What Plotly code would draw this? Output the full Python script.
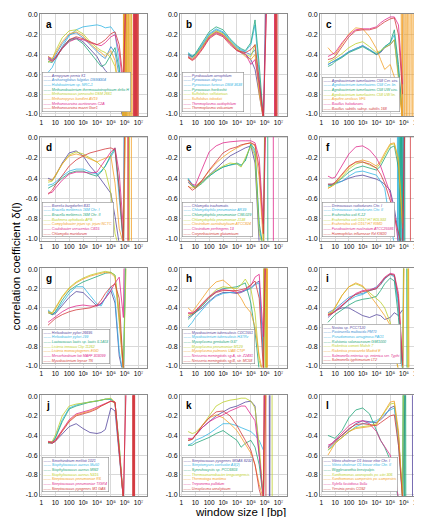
import plotly.graph_objects as go

# ---------------- data ----------------
LOG_WINDOW = [0.48, 0.78, 1.0, 1.5, 2.0, 2.5, 3.0, 3.5, 4.0, 4.3, 4.6, 5.0, 5.3, 5.6, 5.9]
PANEL_LETTERS = ["a", "b", "c", "d", "e", "f", "g", "h", "i", "j", "k", "l"]
X_TICK_VALUES = [1, 10, 100, 1e3, 1e4, 1e5, 1e6, 1e7]
X_TICK_TEXT = ["1", "10", "100", "10\u00b3", "10\u2074", "10\u2075", "10\u2076", "10\u2077"]
Y_TICK_VALUES = [0.0, -0.2, -0.4, -0.6, -0.8, -1.0]
Y_TICK_TEXT = ["0.0", "-0.2", "-0.4", "-0.6", "-0.8", "-1.0"]

PAL8 = ["#55479e", "#3b8bd0", "#33b6e4", "#22a67a", "#bccf2c", "#f2a12a", "#e02a8c", "#d33a3c"]
PAL7 = ["#55479e", "#33b6e4", "#22a67a", "#bccf2c", "#f2a12a", "#e02a8c", "#d33a3c"]

NAMES_A = ["Aeropyrum pernix K1", "Archaeoglobus fulgidus DSM4304", "Halobacterium sp. NRC-1",
           "Methanobacterium thermoautotrophicum delta H", "Methanococcus jannaschii DSM 2661",
           "Methanopyrus kandleri AV19", "Methanosarcina acetivorans C2A", "Methanosarcina mazei Goe1"]
Y_A = [
    [-0.42, -0.45, -0.43, -0.33, -0.25, -0.23, -0.27, -0.34, -0.42, -0.50, -0.56, -0.62, -0.72, -0.90, -1.05],
    [-0.44, -0.46, -0.41, -0.29, -0.20, -0.18, -0.23, -0.30, -0.36, -0.41, -0.44, -0.32, -0.38, -0.62, -1.05],
    [-0.58, -0.53, -0.46, -0.32, -0.21, -0.15, -0.12, -0.11, -0.10, -0.11, -0.13, -0.12, -0.18, -0.50, -1.05],
    [-0.47, -0.48, -0.44, -0.34, -0.26, -0.24, -0.29, -0.38, -0.47, -0.52, -0.50, -0.40, -0.33, -0.55, -1.05],
    [-0.48, -0.45, -0.37, -0.23, -0.16, -0.15, -0.19, -0.27, -0.33, -0.36, -0.38, -0.43, -0.52, -0.78, -1.05],
    [-0.42, -0.44, -0.39, -0.27, -0.19, -0.17, -0.21, -0.29, -0.35, -0.38, -0.42, -0.36, -0.46, -0.82, -1.05],
    [-0.43, -0.46, -0.44, -0.34, -0.27, -0.24, -0.25, -0.28, -0.30, -0.31, -0.28, -0.22, -0.20, -0.38, -0.75],
    [-0.45, -0.47, -0.44, -0.33, -0.25, -0.22, -0.24, -0.27, -0.30, -0.28, -0.25, -0.19, -0.17, -0.30, -0.68],
]
TAIL_A = {3: [5.95, 6.05, 6.15], 4: [6.0, 6.1, 6.2, 6.35, 6.6, 6.65],
          5: [5.92, 5.97, 6.02, 6.08, 6.14, 6.2, 6.27, 6.34, 6.42, 6.5, 6.72, 6.76, 6.8, 6.84, 6.88, 6.92],
          6: [6.62, 6.66, 6.7, 6.74, 6.78, 6.82, 6.86],
          7: [6.64, 6.68, 6.72, 6.76, 6.8, 6.84, 6.88, 6.95, 7.0]}

NAMES_B = ["Pyrobaculum aerophilum", "Pyrococcus abyssi", "Pyrococcus furiosus DSM 3638", "Pyrococcus horikoshii",
           "Sulfolobus solfataricus", "Sulfolobus tokodaii", "Thermoplasma acidophilum", "Thermoplasma volcanium"]
Y_B = [
    [-0.40, -0.42, -0.40, -0.32, -0.22, -0.17, -0.20, -0.28, -0.35, -0.38, -0.40, -0.45, -0.55, -0.80, -1.05],
    [-0.41, -0.43, -0.41, -0.31, -0.20, -0.15, -0.18, -0.26, -0.33, -0.36, -0.38, -0.40, -0.35, -0.70, -1.05],
    [-0.38, -0.41, -0.40, -0.30, -0.19, -0.14, -0.17, -0.25, -0.32, -0.35, -0.37, -0.30, -0.10, -0.60, -1.05],
    [-0.39, -0.42, -0.39, -0.28, -0.17, -0.12, -0.15, -0.24, -0.31, -0.34, -0.36, -0.28, -0.05, -0.50, -1.05],
    [-0.42, -0.44, -0.41, -0.32, -0.21, -0.16, -0.19, -0.27, -0.34, -0.37, -0.40, -0.42, -0.30, -0.75, -1.05],
    [-0.43, -0.45, -0.42, -0.33, -0.22, -0.17, -0.20, -0.28, -0.35, -0.38, -0.42, -0.45, -0.40, -0.80, -1.05],
    [-0.42, -0.45, -0.43, -0.34, -0.23, -0.18, -0.21, -0.29, -0.36, -0.38, -0.39, -0.50, -0.45, -0.70, -1.05],
    [-0.43, -0.46, -0.44, -0.35, -0.24, -0.19, -0.22, -0.30, -0.36, -0.37, -0.38, -0.35, -0.30, -0.65, -1.05],
]
TAIL_B = {0: [6.5], 6: [6.68, 6.72, 6.76], 7: [6.72, 6.75, 6.78, 6.81, 6.84, 6.87, 6.9]}

NAMES_C = ["Agrobacterium tumefaciens C58 Cer. circ.", "Agrobacterium tumefaciens C58 Cer. lin.",
           "Agrobacterium tumefaciens C58 UW circ.", "Agrobacterium tumefaciens C58 UW lin.",
           "Aquifex aeolicus VF5", "Bacillus halodurans", "Bacillus subtilis subsp. subtilis 168"]
Y_C = [
    [-0.50, -0.48, -0.46, -0.42, -0.37, -0.34, -0.31, -0.35, -0.40, -0.38, -0.33, -0.30, -0.25, -0.60, -1.05],
    [-0.50, -0.48, -0.46, -0.42, -0.37, -0.34, -0.31, -0.35, -0.39, -0.37, -0.32, -0.28, -0.20, -0.55, -1.05],
    [-0.52, -0.50, -0.47, -0.43, -0.38, -0.35, -0.32, -0.36, -0.40, -0.37, -0.32, -0.28, -0.15, -0.50, -1.05],
    [-0.48, -0.46, -0.44, -0.39, -0.33, -0.29, -0.27, -0.32, -0.38, -0.36, -0.33, -0.30, -0.25, -0.65, -1.05],
    [-0.33, -0.38, -0.40, -0.30, -0.19, -0.13, -0.14, -0.22, -0.34, -0.45, -0.55, -0.50, -0.62, -0.75, -1.05],
    [-0.42, -0.40, -0.38, -0.28, -0.20, -0.15, -0.14, -0.14, -0.12, -0.08, -0.05, -0.02, -0.02, -0.10, -0.70],
    [-0.45, -0.44, -0.42, -0.32, -0.22, -0.16, -0.15, -0.15, -0.13, -0.10, -0.07, -0.04, -0.03, -0.20, -0.80],
]
TAIL_C = {4: [5.75, 5.85, 5.95, 6.05, 6.12, 6.2, 6.3, 6.4, 6.5, 6.62, 6.7, 6.78, 6.85, 6.9]}

NAMES_D = ["Borrelia burgdorferi B31", "Brucella melitensis 16M Chr. I", "Brucella melitensis 16M Chr. II",
           "Buchnera aphidicola APS", "Campylobacter jejuni sp. jejuni NCTC", "Caulobacter crescentus CB15",
           "Chlamydia muridarum"]
Y_D = [
    [-0.40, -0.42, -0.38, -0.25, -0.15, -0.13, -0.18, -0.28, -0.36, -0.42, -0.48, -0.55, -0.78, -1.05, -1.10],
    [-0.47, -0.46, -0.44, -0.38, -0.33, -0.31, -0.31, -0.34, -0.36, -0.33, -0.28, -0.18, -0.12, -0.60, -1.05],
    [-0.50, -0.48, -0.46, -0.40, -0.35, -0.33, -0.33, -0.36, -0.38, -0.34, -0.28, -0.17, -0.10, -0.50, -1.05],
    [-0.44, -0.43, -0.38, -0.26, -0.17, -0.14, -0.16, -0.20, -0.24, -0.28, -0.32, -0.55, -0.95, -1.10, -1.10],
    [-0.42, -0.42, -0.37, -0.26, -0.18, -0.16, -0.18, -0.21, -0.24, -0.22, -0.20, -0.18, -0.45, -0.90, -1.05],
    [-0.55, -0.54, -0.50, -0.42, -0.36, -0.34, -0.34, -0.35, -0.34, -0.28, -0.22, -0.14, -0.10, -0.35, -0.90],
    [-0.56, -0.52, -0.47, -0.37, -0.28, -0.22, -0.18, -0.15, -0.13, -0.12, -0.11, -0.10, -0.12, -0.50, -1.05],
]
TAIL_D = {1: [6.05], 3: [6.32, 6.36], 4: [6.45, 6.5], 6: [6.2, 6.24, 6.28]}

NAMES_E = ["Chlamydia trachomatis", "Chlamydophila pneumoniae AR39", "Chlamydophila pneumoniae CWL029",
           "Chlamydophila pneumoniae J138", "Clostridium acetobutylicum ATCC824", "Clostridium perfringens 13",
           "Corynebacterium glutamicum"]
Y_E = [
    [-0.44, -0.48, -0.48, -0.43, -0.37, -0.30, -0.24, -0.18, -0.14, -0.12, -0.10, -0.08, -0.25, -1.05, -1.10],
    [-0.40, -0.46, -0.49, -0.44, -0.38, -0.33, -0.29, -0.27, -0.26, -0.28, -0.22, -0.07, -0.15, -0.90, -1.10],
    [-0.41, -0.47, -0.50, -0.45, -0.38, -0.33, -0.29, -0.27, -0.25, -0.27, -0.23, -0.06, -0.12, -0.85, -1.10],
    [-0.42, -0.48, -0.50, -0.44, -0.37, -0.32, -0.28, -0.25, -0.26, -0.29, -0.20, -0.08, -0.18, -0.95, -1.10],
    [-0.48, -0.50, -0.48, -0.42, -0.33, -0.25, -0.19, -0.14, -0.10, -0.08, -0.06, -0.05, -0.08, -0.40, -1.05],
    [-0.42, -0.46, -0.47, -0.30, -0.14, -0.08, -0.05, -0.04, -0.03, -0.03, -0.03, -0.03, -0.05, -0.20, -0.85],
    [-0.48, -0.52, -0.50, -0.42, -0.32, -0.23, -0.15, -0.11, -0.09, -0.07, -0.06, -0.05, -0.07, -0.30, -0.95],
]
TAIL_E = {2: [6.2, 6.23], 3: [6.27], 5: [6.6, 6.63], 6: [6.35]}

NAMES_F = ["Deinococcus radiodurans Chr. I", "Deinococcus radiodurans Chr. II", "Escherichia coli K-12",
           "Escherichia coli O157:H7 EDL933", "Escherichia coli O157:H7 RIMD", "Fusobacterium nucleatum ATCC25586",
           "Haemophilus influenzae Rd KW20"]
Y_F = [
    [-0.46, -0.46, -0.45, -0.43, -0.40, -0.38, -0.37, -0.39, -0.41, -0.43, -0.46, -0.52, -0.70, -0.95, -1.10],
    [-0.47, -0.47, -0.46, -0.43, -0.38, -0.34, -0.33, -0.35, -0.37, -0.43, -0.50, -0.85, -1.05, -1.10, -1.10],
    [-0.48, -0.47, -0.45, -0.40, -0.34, -0.30, -0.28, -0.30, -0.32, -0.28, -0.20, -0.10, -0.08, -0.30, -0.90],
    [-0.50, -0.48, -0.46, -0.39, -0.31, -0.26, -0.24, -0.27, -0.30, -0.25, -0.17, -0.07, -0.06, -0.20, -0.85],
    [-0.50, -0.48, -0.45, -0.37, -0.29, -0.24, -0.22, -0.24, -0.28, -0.23, -0.15, -0.06, -0.05, -0.25, -0.90],
    [-0.38, -0.40, -0.39, -0.28, -0.16, -0.09, -0.08, -0.12, -0.20, -0.28, -0.40, -0.55, -0.75, -1.05, -1.10],
    [-0.46, -0.46, -0.44, -0.36, -0.28, -0.24, -0.24, -0.26, -0.30, -0.36, -0.45, -0.62, -0.78, -0.95, -1.10],
]
TAIL_F = {1: [5.5, 5.55, 5.6, 5.65, 5.72, 5.78, 5.85, 5.9, 5.95, 6.0, 6.05],
          2: [5.6, 5.7, 5.8, 5.9, 6.0, 6.1], 5: [6.35], 6: [6.45, 6.48]}

NAMES_G = ["Helicobacter pylori 26695", "Helicobacter pylori J99", "Lactococcus lactis sp. lactis IL1403",
           "Listeria innocua Clip 11262", "Listeria monocytogenes EGD", "Mesorhizobium loti MAFF 303099",
           "Mycobacterium leprae TN"]
Y_G = [
    [-0.43, -0.47, -0.46, -0.37, -0.29, -0.23, -0.24, -0.31, -0.38, -0.36, -0.30, -0.22, -0.35, -0.90, -1.10],
    [-0.42, -0.46, -0.45, -0.35, -0.25, -0.18, -0.18, -0.27, -0.36, -0.38, -0.30, -0.18, -0.30, -0.85, -1.10],
    [-0.45, -0.47, -0.44, -0.32, -0.22, -0.17, -0.13, -0.10, -0.07, -0.05, -0.04, -0.03, -0.06, -0.50, -1.05],
    [-0.44, -0.45, -0.40, -0.28, -0.19, -0.13, -0.09, -0.06, -0.04, -0.03, -0.02, -0.03, -0.06, -0.45, -1.05],
    [-0.45, -0.46, -0.41, -0.29, -0.20, -0.14, -0.10, -0.07, -0.05, -0.04, -0.03, -0.04, -0.08, -0.55, -1.05],
    [-0.55, -0.52, -0.49, -0.44, -0.40, -0.38, -0.37, -0.38, -0.38, -0.35, -0.30, -0.22, -0.14, -0.08, -0.50],
    [-0.58, -0.54, -0.51, -0.47, -0.44, -0.42, -0.41, -0.40, -0.37, -0.32, -0.25, -0.18, -0.15, -0.30, -1.05],
]
TAIL_G = {1: [6.45], 2: [6.5], 3: [6.62], 5: [6.2]}

NAMES_H = ["Mycobacterium tuberculosis CDC1551", "Mycobacterium tuberculosis H37Rv", "Mycoplasma genitalium G37",
           "Mycoplasma pneumoniae M129", "Mycoplasma pulmonis UAB CTIP", "Neisseria meningitidis sg.A, str. Z2491",
           "Neisseria meningitidis sg.B, str. MC58"]
Y_H = [
    [-0.50, -0.47, -0.45, -0.40, -0.33, -0.27, -0.24, -0.24, -0.25, -0.24, -0.22, -0.19, -0.15, -0.12, -0.90],
    [-0.60, -0.55, -0.50, -0.42, -0.34, -0.28, -0.25, -0.24, -0.24, -0.23, -0.22, -0.20, -0.16, -0.14, -0.95],
    [-0.52, -0.48, -0.45, -0.38, -0.30, -0.23, -0.20, -0.19, -0.18, -0.16, -0.14, -0.35, -0.65, -1.05, -1.10],
    [-0.48, -0.46, -0.43, -0.36, -0.28, -0.21, -0.18, -0.19, -0.20, -0.16, -0.10, -0.20, -0.45, -0.95, -1.10],
    [-0.40, -0.44, -0.40, -0.30, -0.20, -0.13, -0.11, -0.17, -0.24, -0.30, -0.38, -0.45, -0.60, -0.90, -1.10],
    [-0.45, -0.45, -0.43, -0.36, -0.28, -0.23, -0.21, -0.22, -0.24, -0.23, -0.21, -0.17, -0.08, -0.05, -0.70],
    [-0.46, -0.46, -0.44, -0.37, -0.29, -0.24, -0.22, -0.22, -0.22, -0.21, -0.20, -0.16, -0.12, -0.30, -1.05],
]
TAIL_H = {2: [6.05, 6.12], 3: [6.0, 6.05, 6.1, 6.15, 6.2], 4: [6.1, 6.15, 6.25], 5: [6.72], 6: [6.3]}

NAMES_I = ["Nostoc sp. PCC7120", "Pasteurella multocida PM70", "Pseudomonas aeruginosa PAO1",
           "Ralstonia solanacearum GMI1000", "Rickettsia conorii Malish 7", "Rickettsia prowazekii Madrid E",
           "Salmonella enterica sp. enterica ser. Typhi", "Salmonella typhimurium LT2"]
Y_I = [
    [-0.50, -0.46, -0.43, -0.40, -0.40, -0.44, -0.48, -0.50, -0.47, -0.48, -0.52, -0.50, -0.45, -0.48, -0.42],
    [-0.45, -0.43, -0.41, -0.35, -0.29, -0.26, -0.25, -0.22, -0.20, -0.16, -0.10, -0.05, -0.06, -0.35, -1.05],
    [-0.47, -0.45, -0.43, -0.38, -0.32, -0.28, -0.26, -0.22, -0.18, -0.14, -0.09, -0.05, -0.08, -0.40, -1.05],
    [-0.55, -0.50, -0.47, -0.42, -0.37, -0.33, -0.31, -0.30, -0.28, -0.22, -0.15, -0.09, -0.12, -0.50, -1.05],
    [-0.47, -0.45, -0.40, -0.27, -0.18, -0.15, -0.18, -0.24, -0.31, -0.34, -0.40, -0.55, -0.80, -1.05, -1.10],
    [-0.46, -0.44, -0.39, -0.27, -0.18, -0.14, -0.17, -0.26, -0.36, -0.42, -0.48, -0.58, -0.85, -1.05, -1.10],
    [-0.47, -0.46, -0.43, -0.37, -0.30, -0.25, -0.22, -0.21, -0.19, -0.14, -0.08, -0.04, -0.05, -0.25, -0.95],
    [-0.48, -0.46, -0.44, -0.38, -0.31, -0.26, -0.23, -0.22, -0.20, -0.15, -0.09, -0.05, -0.06, -0.30, -1.00],
]
TAIL_I = {3: [6.15, 6.25], 4: [6.2, 6.3, 6.35], 5: [6.28, 6.4]}

NAMES_J = ["Sinorhizobium meliloti 1021", "Staphylococcus aureus Mu50", "Staphylococcus aureus MW2",
           "Staphylococcus aureus N315", "Streptococcus pneumoniae R6", "Streptococcus pneumoniae TIGR4",
           "Streptococcus pyogenes M1 GAS"]
Y_J = [
    [-0.47, -0.48, -0.46, -0.38, -0.31, -0.28, -0.33, -0.37, -0.38, -0.37, -0.34, -0.12, -0.15, -0.60, -1.05],
    [-0.47, -0.47, -0.42, -0.24, -0.12, -0.09, -0.07, -0.06, -0.05, -0.04, -0.03, -0.03, -0.08, -0.55, -1.05],
    [-0.48, -0.47, -0.43, -0.26, -0.13, -0.10, -0.08, -0.06, -0.05, -0.04, -0.03, -0.03, -0.07, -0.50, -1.05],
    [-0.47, -0.46, -0.40, -0.20, -0.10, -0.08, -0.07, -0.06, -0.05, -0.04, -0.03, -0.02, -0.06, -0.50, -1.05],
    [-0.46, -0.47, -0.45, -0.35, -0.25, -0.19, -0.17, -0.15, -0.12, -0.10, -0.08, -0.05, -0.07, -0.60, -1.05],
    [-0.46, -0.47, -0.45, -0.34, -0.24, -0.18, -0.16, -0.14, -0.11, -0.09, -0.07, -0.05, -0.06, -0.55, -1.05],
    [-0.47, -0.48, -0.46, -0.36, -0.26, -0.20, -0.18, -0.16, -0.13, -0.10, -0.08, -0.05, -0.06, -0.55, -1.05],
]
TAIL_J = {5: [6.6, 6.66, 6.72], 6: [6.55, 6.58, 6.61, 6.64, 6.67, 6.7, 6.73]}

NAMES_K = ["Streptococcus pyogenes MGAS 8232", "Streptomyces coelicolor A3(2)", "Synechocystis sp. PCC6803",
           "Thermoanaerobacter tengcongensis", "Thermotoga maritima", "Treponema pallidum",
           "Ureaplasma urealyticum"]
Y_K = [
    [-0.45, -0.44, -0.40, -0.32, -0.26, -0.20, -0.16, -0.12, -0.10, -0.08, -0.06, -0.05, -0.10, -0.60, -1.05],
    [-0.50, -0.48, -0.45, -0.42, -0.38, -0.33, -0.28, -0.28, -0.30, -0.32, -0.34, -0.36, -0.40, -0.45, -0.55],
    [-0.50, -0.50, -0.48, -0.45, -0.42, -0.38, -0.35, -0.40, -0.45, -0.52, -0.48, -0.45, -0.52, -0.70, -1.05],
    [-0.36, -0.38, -0.37, -0.30, -0.20, -0.10, -0.06, -0.04, -0.03, -0.02, -0.02, -0.05, -0.12, -0.50, -1.05],
    [-0.45, -0.44, -0.40, -0.30, -0.22, -0.19, -0.22, -0.28, -0.35, -0.42, -0.48, -0.58, -0.70, -0.90, -1.05],
    [-0.43, -0.43, -0.40, -0.32, -0.26, -0.22, -0.19, -0.15, -0.12, -0.10, -0.10, -0.18, -0.25, -0.60, -1.05],
    [-0.45, -0.44, -0.40, -0.30, -0.22, -0.16, -0.15, -0.20, -0.30, -0.38, -0.45, -0.55, -0.70, -0.95, -1.10],
]
TAIL_K = {0: [6.3, 6.35, 6.4], 3: [6.5, 6.55], 4: [6.6], 5: [6.2], 6: [6.05, 6.1]}

NAMES_L = ["Vibrio cholerae O1 biovar eltor Chr. I", "Vibrio cholerae O1 biovar eltor Chr. II",
           "Wigglesworthia brevipalpis", "Xanthomonas axonopodis pv. citri 306",
           "Xanthomonas campestris pv. campestris", "Xylella fastidiosa 9a5c", "Yersinia pestis CO92"]
Y_L = [
    [-0.52, -0.48, -0.45, -0.40, -0.34, -0.28, -0.25, -0.26, -0.27, -0.24, -0.20, -0.12, -0.10, -0.40, -1.05],
    [-0.55, -0.50, -0.47, -0.42, -0.36, -0.31, -0.28, -0.27, -0.25, -0.22, -0.18, -0.14, -0.12, -0.50, -1.05],
    [-0.40, -0.42, -0.43, -0.35, -0.22, -0.14, -0.12, -0.18, -0.35, -0.45, -0.52, -0.65, -0.85, -1.05, -1.10],
    [-0.55, -0.52, -0.48, -0.42, -0.36, -0.32, -0.31, -0.30, -0.28, -0.22, -0.15, -0.08, -0.07, -0.40, -1.05],
    [-0.60, -0.53, -0.48, -0.42, -0.36, -0.33, -0.32, -0.31, -0.29, -0.22, -0.14, -0.06, -0.05, -0.35, -1.05],
    [-0.50, -0.48, -0.45, -0.38, -0.30, -0.26, -0.25, -0.28, -0.36, -0.45, -0.52, -0.60, -0.75, -1.05, -1.10],
    [-0.53, -0.49, -0.46, -0.39, -0.33, -0.29, -0.28, -0.29, -0.30, -0.27, -0.24, -0.20, -0.19, -0.50, -1.05],
]
TAIL_L = {0: [6.6, 6.63], 1: [6.2], 2: [6.0, 6.05, 6.1, 6.15], 3: [6.1]}

PANELS = [(NAMES_A, Y_A, TAIL_A), (NAMES_B, Y_B, TAIL_B), (NAMES_C, Y_C, TAIL_C),
          (NAMES_D, Y_D, TAIL_D), (NAMES_E, Y_E, TAIL_E), (NAMES_F, Y_F, TAIL_F),
          (NAMES_G, Y_G, TAIL_G), (NAMES_H, Y_H, TAIL_H), (NAMES_I, Y_I, TAIL_I),
          (NAMES_J, Y_J, TAIL_J), (NAMES_K, Y_K, TAIL_K), (NAMES_L, Y_L, TAIL_L)]

# ---------------- layout ----------------
W, H = 422, 517
COLS = [(32, 139), (172, 279), (312, 418)]
ROWS = [(3, 106), (127, 232), (260, 360), (388, 490)]
FONT = "Liberation Sans, Arial, sans-serif"

fig = go.Figure()
annotations = []
layout_axes = {}
for p, (names, ys, tails) in enumerate(PANELS):
    r, c = divmod(p, 3)
    k = p + 1
    xs_name = "x" if k == 1 else f"x{k}"
    ys_name = "y" if k == 1 else f"y{k}"
    x0, x1 = COLS[c]
    y0, y1 = ROWS[r]
    pal = PAL8 if len(names) == 8 else PAL7
    for i, (nm, yv) in enumerate(zip(names, ys)):
        xv = [10 ** v for v in LOG_WINDOW]
        yy = list(yv)
        for j, t in enumerate(tails.get(i, [])):
            xv.append(10 ** t)
            yy.append(3.0 if j % 2 == 0 else -3.0)
        fig.add_trace(go.Scatter(x=xv, y=yy, mode="lines", name=nm,
                                 line=dict(color=pal[i], width=0.8),
                                 xaxis=xs_name, yaxis=ys_name, showlegend=False,
                                 hoverinfo="skip"))
    layout_axes["xaxis" if k == 1 else f"xaxis{k}"] = dict(
        domain=[x0 / W, x1 / W], type="log", range=[-0.1, 7.6],
        tickvals=X_TICK_VALUES, ticktext=X_TICK_TEXT, tickfont=dict(size=6.5, family=FONT, color="black"),
        ticklabeloverflow="allow",
        showgrid=True, gridcolor="#d9d9d9", gridwidth=0.6, zeroline=False,
        showline=True, linecolor="#8a8a8a", linewidth=0.8, mirror=True, ticks="",
        anchor=ys_name)
    layout_axes["yaxis" if k == 1 else f"yaxis{k}"] = dict(
        domain=[1 - y1 / H, 1 - y0 / H], range=[-1.02, 0.01],
        tickvals=Y_TICK_VALUES, ticktext=Y_TICK_TEXT, tickfont=dict(size=7, family=FONT, color="black"),
        showgrid=True, gridcolor="#d9d9d9", gridwidth=0.6, zeroline=False,
        showline=True, linecolor="#8a8a8a", linewidth=0.8, mirror=True, ticks="",
        anchor=xs_name)
    annotations.append(dict(text=f"<b>{PANEL_LETTERS[p]}</b>", xref="paper", yref="paper",
                            x=(x0 + 4) / W, y=1 - (y0 + 3) / H, xanchor="left", yanchor="top",
                            showarrow=False, font=dict(size=10, family=FONT, color="black")))
    lines = [f"<span style='color:{pal[i]}'>\u2014\u2014 <i>{nm}</i></span>" for i, nm in enumerate(names)]
    annotations.append(dict(text="<br>".join(lines), xref="paper", yref="paper",
                            x=(x0 + 2) / W, y=1 - (y1 - 4) / H, xanchor="left", yanchor="bottom",
                            align="left", showarrow=False, bgcolor="white",
                            bordercolor="#8a8a8a", borderwidth=0.6, borderpad=1,
                            font=dict(size=3.6, family=FONT)))

annotations.append(dict(text="correlation coefficient \u03b4(l)", xref="paper", yref="paper",
                        x=8 / W, y=1 - 258 / H, textangle=-90, showarrow=False,
                        xanchor="center", yanchor="middle", font=dict(size=11.5, family=FONT, color="black")))
annotations.append(dict(text="window size l [bp]", xref="paper", yref="paper",
                        x=232 / W, y=1 - 506 / H, showarrow=False,
                        xanchor="center", yanchor="middle", font=dict(size=11.5, family=FONT, color="black")))

fig.update_layout(width=W, height=H, margin=dict(l=0, r=0, t=0, b=0),
                  paper_bgcolor="white", plot_bgcolor="white",
                  annotations=annotations, showlegend=False, **layout_axes)
fig.write_html("out.html")
